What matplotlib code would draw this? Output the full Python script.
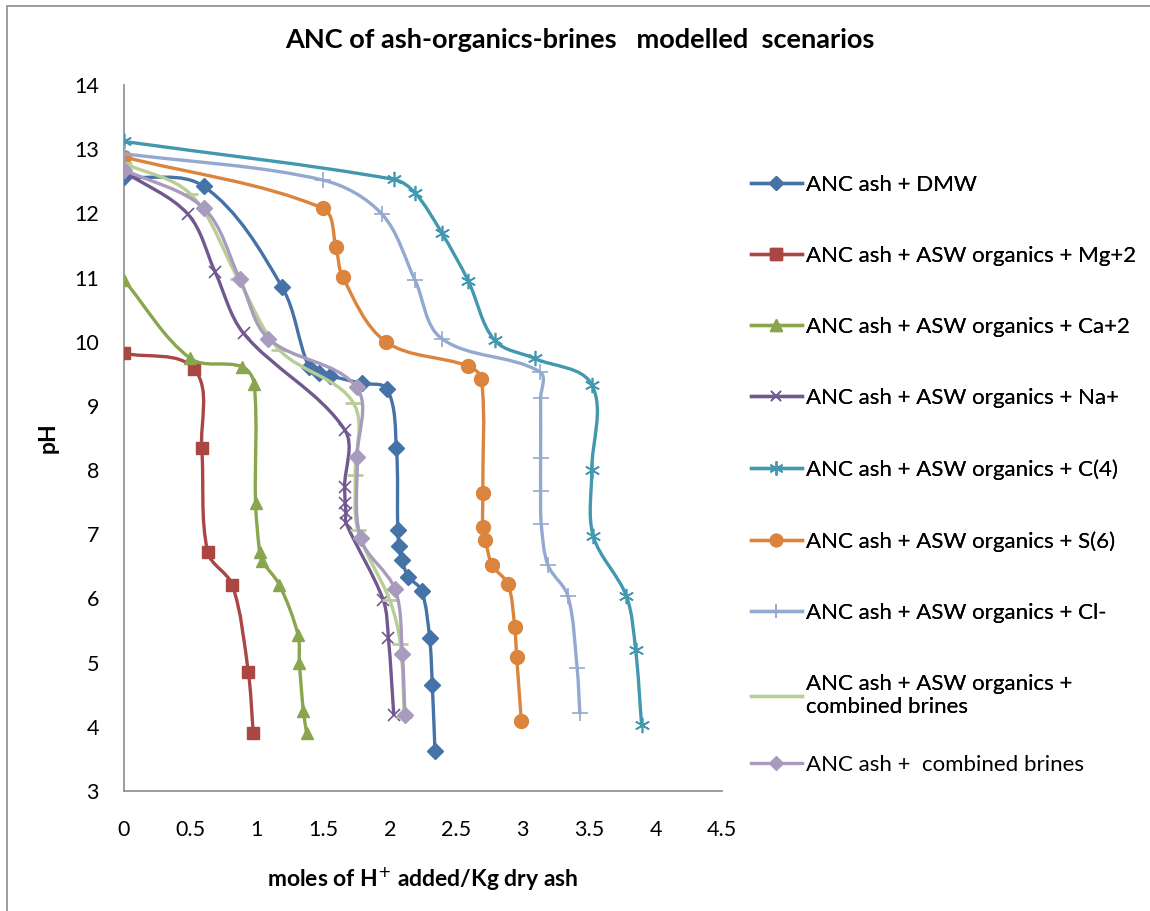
import numpy as np
import matplotlib
matplotlib.use("Agg")
import matplotlib.pyplot as plt
from matplotlib.path import Path
from matplotlib.patches import PathPatch, Rectangle
from matplotlib.lines import Line2D

plt.rcParams['font.family'] = ['Lato', 'DejaVu Sans']

# titration curves: moles H+ added per kg dry ash vs pH
dmw_x = [0, 0.60, 1.19, 1.39, 1.47, 1.55, 1.79, 1.98, 2.05, 2.06, 2.07, 2.09, 2.14, 2.24, 2.30, 2.32, 2.34]
dmw_ph = [12.57, 12.42, 10.85, 9.61, 9.52, 9.47, 9.35, 9.26, 8.34, 7.06, 6.81, 6.60, 6.34, 6.12, 5.38, 4.65, 3.63]

mg_x = [0, 0.53, 0.585, 0.63, 0.815, 0.935, 0.973]
mg_ph = [9.82, 9.57, 8.34, 6.72, 6.21, 4.86, 3.90]

ca_x = [0, 0.50, 0.89, 0.98, 0.99, 1.02, 1.04, 1.17, 1.31, 1.32, 1.35, 1.375]
ca_ph = [10.96, 9.74, 9.61, 9.34, 7.49, 6.73, 6.58, 6.21, 5.43, 4.99, 4.24, 3.90]

na_x = [0, 0.48, 0.685, 0.90, 1.66, 1.66, 1.665, 1.67, 1.67, 1.95, 1.99, 2.03]
na_ph = [12.65, 11.99, 11.09, 10.13, 8.63, 7.74, 7.48, 7.33, 7.18, 5.98, 5.38, 4.19]

c4_x = [0, 2.03, 2.19, 2.39, 2.59, 2.79, 3.09, 3.52, 3.52, 3.53, 3.78, 3.85, 3.895]
c4_ph = [13.12, 12.53, 12.32, 11.70, 10.95, 10.02, 9.74, 9.33, 8.00, 6.98, 6.04, 5.20, 4.03]

s6_x = [0, 1.495, 1.595, 1.645, 1.97, 2.59, 2.69, 2.70, 2.70, 2.72, 2.77, 2.89, 2.94, 2.955, 2.99]
s6_ph = [12.88, 12.08, 11.48, 11.01, 10.00, 9.62, 9.42, 7.64, 7.12, 6.91, 6.52, 6.22, 5.56, 5.09, 4.09]

cl_x = [0, 1.495, 1.94, 2.19, 2.39, 3.13, 3.135, 3.135, 3.135, 3.14, 3.19, 3.34, 3.41, 3.43]
cl_ph = [12.93, 12.52, 11.99, 10.96, 10.05, 9.53, 9.12, 8.19, 7.67, 7.16, 6.52, 6.04, 4.91, 4.22]

org_brines_x = [0, 0.50, 0.86, 1.17, 1.725, 1.74, 1.76, 2.00, 2.08, 2.11]
org_brines_ph = [12.78, 12.30, 10.98, 9.87, 9.05, 7.93, 7.06, 5.97, 5.29, 4.16]

brines_x = [0, 0.60, 0.873, 1.086, 1.75, 1.755, 1.78, 2.04, 2.094, 2.114]
brines_ph = [12.68, 12.08, 10.97, 10.05, 9.29, 8.20, 6.94, 6.14, 5.14, 4.18]

labels = [
    "ANC ash + DMW",
    "ANC ash + ASW organics + Mg+2",
    "ANC ash + ASW organics + Ca+2",
    "ANC ash + ASW organics + Na+",
    "ANC ash + ASW organics + C(4)",
    "ANC ash + ASW organics + S(6)",
    "ANC ash + ASW organics + Cl-",
    "ANC ash + ASW organics +\ncombined brines",
    "ANC ash +  combined brines",
]

series = [
    (dmw_x, dmw_ph, "#4572A7", "D", 8, 1.0),
    (mg_x, mg_ph, "#AA4643", "s", 9, 1.0),
    (ca_x, ca_ph, "#89A54E", "^", 9, 1.0),
    (na_x, na_ph, "#71588F", "x", 8, 1.2),
    (c4_x, c4_ph, "#4198AF", (6, 2, 0), 11, 1.2),
    (s6_x, s6_ph, "#DB843D", "o", 10, 1.0),
    (cl_x, cl_ph, "#93A9CF", "+", 11, 1.2),
    (org_brines_x, org_brines_ph, "#B9CD96", "_", 11, 2.0),
    (brines_x, brines_ph, "#A99BBD", "D", 8, 1.0),
]

# data units -> rough screen units, so curve tangents are scaled like on screen
SX, SY = 133.0, 64.2


def smooth_path(xs, ys, t=0.33):
    pts = np.column_stack([np.asarray(xs) * SX, np.asarray(ys) * SY]).astype(float)
    n = len(pts)
    seg = np.linalg.norm(np.diff(pts, axis=0), axis=1)
    tang = np.zeros_like(pts)
    for i in range(n):
        a = pts[max(i - 1, 0)]
        b = pts[min(i + 1, n - 1)]
        d = b - a
        nd = np.linalg.norm(d)
        tang[i] = d / nd if nd > 0 else 0
    verts = [pts[0]]
    codes = [Path.MOVETO]
    for i in range(n - 1):
        L = seg[i]
        c1 = pts[i] + tang[i] * L * t
        c2 = pts[i + 1] - tang[i + 1] * L * t
        verts += [c1, c2, pts[i + 1]]
        codes += [Path.CURVE4] * 3
    verts = np.array(verts) / [SX, SY]
    return Path(verts, codes)


fig = plt.figure(figsize=(11.5, 9.11), dpi=100)
ax = fig.add_axes([124 / 1150, 1 - 791 / 911, (722 - 124) / 1150, (791 - 85) / 911])

handles = []
for k, (xs, ys, col, mk, ms, mew) in enumerate(series):
    z = 3 + k
    ax.add_patch(PathPatch(smooth_path(xs, ys), fill=False, edgecolor=col,
                           lw=2.4, zorder=z, capstyle='round', joinstyle='round'))
    ax.plot(xs, ys, linestyle='none', marker=mk, markersize=ms, color=col,
            markeredgecolor=col, markeredgewidth=mew, zorder=z)
    if k == 7:
        h = Line2D([], [], color=col, lw=2.4)
    else:
        h = Line2D([], [], color=col, lw=2.4, marker=mk, markersize=ms - 1,
                   markeredgewidth=mew)
    handles.append(h)

ax.set_xlim(0, 4.5)
ax.set_ylim(3, 14)
ax.set_xticks(np.arange(0, 4.51, 0.5))
ax.set_xticklabels(["0", "0.5", "1", "1.5", "2", "2.5", "3", "3.5", "4", "4.5"])
ax.set_yticks(range(3, 15))
ax.tick_params(length=0, labelsize=15.5, colors="black", pad=18)
ax.tick_params(axis='x', pad=21)
for side in ["top", "right"]:
    ax.spines[side].set_visible(False)
for side in ["left", "bottom"]:
    ax.spines[side].set_color("#8c8c8c")
    ax.spines[side].set_linewidth(1.2)

ax.set_xlabel("moles of H$^{+}$ added/Kg dry ash", fontsize=16.5, fontweight='bold', labelpad=18)
ax.set_ylabel("pH", fontsize=16.5, fontweight='bold', labelpad=11)

fig.text(580 / 1150, 1 - 40 / 911, "ANC of ash-organics-brines   modelled  scenarios",
         ha='center', va='center', fontsize=19.5, fontweight='bold')

leg_kw = dict(loc='upper left', frameon=False, fontsize=16, labelspacing=2.3,
              handlelength=2.3, handletextpad=0.2, borderaxespad=0)
leg1 = fig.legend(handles[:8], labels[:8], bbox_to_anchor=(742 / 1150, 1 - 166 / 911), **leg_kw)
fig.add_artist(leg1)
fig.legend(handles[8:], labels[8:], bbox_to_anchor=(742 / 1150, 1 - 746 / 911), **leg_kw)

fig.patches.append(Rectangle((7 / 1150, -0.1), 1.2, 1 - 6 / 911 + 0.1,
                             transform=fig.transFigure, fill=False,
                             edgecolor="#8c8c8c", lw=1.2))

fig.savefig("out.png", dpi=100)
